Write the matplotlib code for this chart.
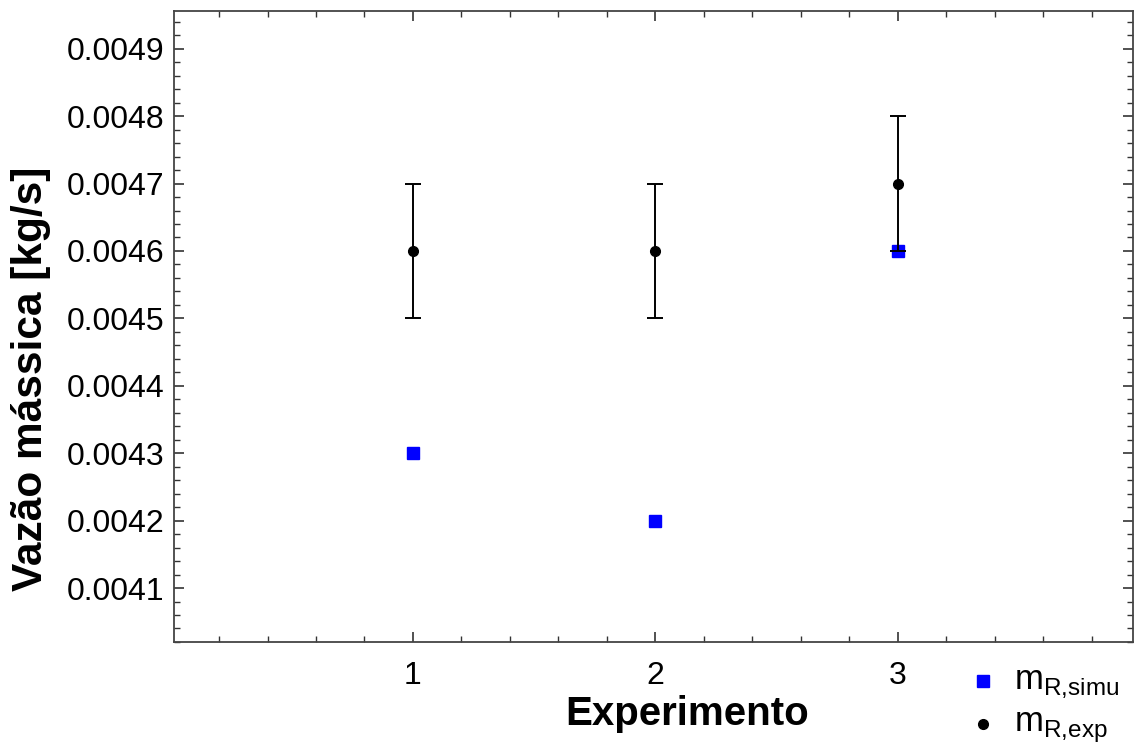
import matplotlib
matplotlib.use('Agg')
import matplotlib.pyplot as plt
from matplotlib.ticker import MultipleLocator, FixedLocator

plt.rcParams['font.family'] = ['Liberation Sans', 'DejaVu Sans']

experimento = [1, 2, 3]
m_simu = [0.0043, 0.0042, 0.0046]
m_exp = [0.0046, 0.0046, 0.0047]
m_exp_err = [0.0001, 0.0001, 0.0001]
yticks = [0.0041, 0.0042, 0.0043, 0.0044, 0.0045, 0.0046, 0.0047, 0.0048, 0.0049]

fig = plt.figure(figsize=(11.34, 7.47), dpi=100)
ax = fig.add_axes([0.1534, 0.1406, 0.8456, 0.8447])

ax.errorbar(experimento, m_exp, yerr=m_exp_err, fmt='none', ecolor='black',
            elinewidth=1.4, capsize=6, capthick=1.4, zorder=3)
ax.plot(experimento, m_exp, 'o', color='black', markersize=7, zorder=4)
ax.plot(experimento, m_simu, 's', color='#0000ff', markersize=9, zorder=2.5)

ax.set_xlim(0.014, 3.97)
ax.set_ylim(0.00402, 0.004956)
ax.xaxis.set_major_locator(FixedLocator(experimento))
ax.xaxis.set_minor_locator(MultipleLocator(0.2))
ax.yaxis.set_major_locator(FixedLocator(yticks))
ax.yaxis.set_minor_locator(MultipleLocator(0.00002))
ax.set_yticklabels(['%.4f' % v for v in yticks])

for side in ['left', 'right', 'top', 'bottom']:
    ax.spines[side].set_color('#444444')
    ax.spines[side].set_linewidth(1.3)
ax.tick_params(which='both', direction='in', top=True, right=True, color='#333333')
ax.tick_params(which='major', length=7, width=1.2, labelsize=23, pad=7)
ax.tick_params(axis='x', which='major', pad=14)
ax.tick_params(which='minor', length=4, width=1.0)

# axis titles placed in figure coords
fig.text(687 / 1134, 1 - 725 / 747, 'Experimento', fontsize=29, fontweight='bold',
         ha='center', va='baseline')
fig.text(31 / 1134, 1 - 379 / 747, 'Vazão mássica [kg/s]', fontsize=30.5, fontweight='bold',
         ha='center', va='center', rotation=90)

# legend below the frame, bottom right
ax.plot([983 / 1134], [1 - 681 / 747], 's', color='#0000ff', markersize=9,
        transform=fig.transFigure, clip_on=False)
ax.plot([983 / 1134], [1 - 724 / 747], 'o', color='black', markersize=7,
        transform=fig.transFigure, clip_on=False)
fig.text(1014 / 1134, 1 - 684 / 747, r'm$_{\mathregular{R{,}simu}}$', fontsize=25, ha='left', va='center')
fig.text(1014 / 1134, 1 - 728 / 747, r'm$_{\mathregular{R{,}exp}}$', fontsize=25, ha='left', va='center')

plt.savefig('out.png', dpi=100)
